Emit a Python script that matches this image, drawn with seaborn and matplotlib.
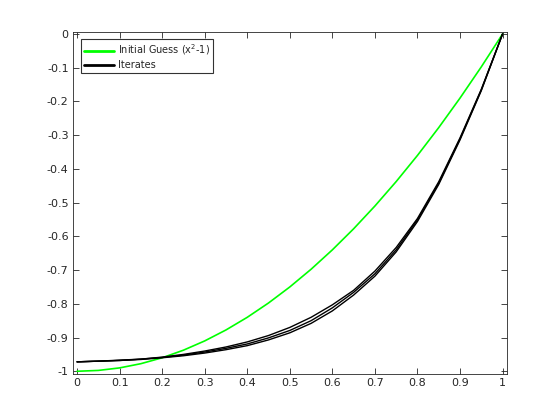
import matplotlib
matplotlib.use("Agg")
import matplotlib.pyplot as plt
import seaborn as sns

# --- data ---
x = [0, 0.05, 0.1, 0.15, 0.2, 0.25, 0.3, 0.35, 0.4, 0.45, 0.5,
     0.55, 0.6, 0.65, 0.7, 0.75, 0.8, 0.85, 0.9, 0.95, 1.0]
guess = [-1.0, -0.9975, -0.99, -0.9775, -0.96, -0.9375, -0.91, -0.8775, -0.84, -0.7975, -0.75,
         -0.6975, -0.64, -0.5775, -0.51, -0.4375, -0.36, -0.2775, -0.19, -0.0975, 0.0]
iter1 = [-0.972, -0.970, -0.968, -0.964, -0.958, -0.950, -0.940, -0.928, -0.913, -0.894, -0.870,
         -0.840, -0.803, -0.760, -0.703, -0.633, -0.547, -0.438, -0.308, -0.164, 0.0]
iter2 = [-0.972, -0.970, -0.968, -0.965, -0.960, -0.954, -0.946, -0.936, -0.924, -0.907, -0.886,
         -0.858, -0.821, -0.774, -0.718, -0.646, -0.556, -0.446, -0.314, -0.168, 0.0]
iter3 = [-0.972, -0.970, -0.967, -0.964, -0.959, -0.952, -0.943, -0.932, -0.919, -0.901, -0.879,
         -0.850, -0.812, -0.766, -0.711, -0.640, -0.551, -0.442, -0.311, -0.166, 0.0]
iterates = [iter1, iter2, iter3]

xticks = [0, 0.1, 0.2, 0.3, 0.4, 0.5, 0.6, 0.7, 0.8, 0.9, 1]
yticks = [0, -0.1, -0.2, -0.3, -0.4, -0.5, -0.6, -0.7, -0.8, -0.9, -1]

sns.set_style("ticks")
plt.rcParams["font.family"] = ["DejaVu Sans"]
plt.rcParams["axes.unicode_minus"] = False

fig = plt.figure(figsize=(5.6, 4.2), dpi=100)
ax = fig.add_axes([0.13, 0.11, 0.775, 0.815])

sns.lineplot(x=x, y=guess, color="#00ff00", linewidth=1.2,
             label="Initial Guess (x$^2$-1)", ax=ax)
for i, it in enumerate(iterates):
    sns.lineplot(x=x, y=it, color="black", linewidth=1.0,
                 label="Iterates" if i == 0 else None, ax=ax)

ax.set_xlim(-0.01, 1.01)
ax.set_ylim(-1.0075, 0.0075)
ax.set_xticks(xticks)
ax.set_xticklabels([f"{t:g}" for t in xticks])
ax.set_yticks(yticks)
ax.set_yticklabels([f"{t:g}" for t in yticks])
ax.tick_params(direction="in", top=True, right=True, length=4, width=0.6,
               labelsize=8, colors="#262626", pad=3)
for s in ax.spines.values():
    s.set_visible(True)
    s.set_linewidth(0.6)
    s.set_color("#262626")

leg = ax.legend(loc="upper left", fontsize=7, frameon=True, fancybox=False,
                borderaxespad=0.8, handlelength=3.1, handletextpad=0.4,
                borderpad=0.35, labelspacing=0.25)
leg.get_frame().set_edgecolor("black")
leg.get_frame().set_linewidth(0.8)
for h in leg.get_lines():
    h.set_linewidth(2)

fig.savefig("out.png", dpi=100)
plt.close(fig)
